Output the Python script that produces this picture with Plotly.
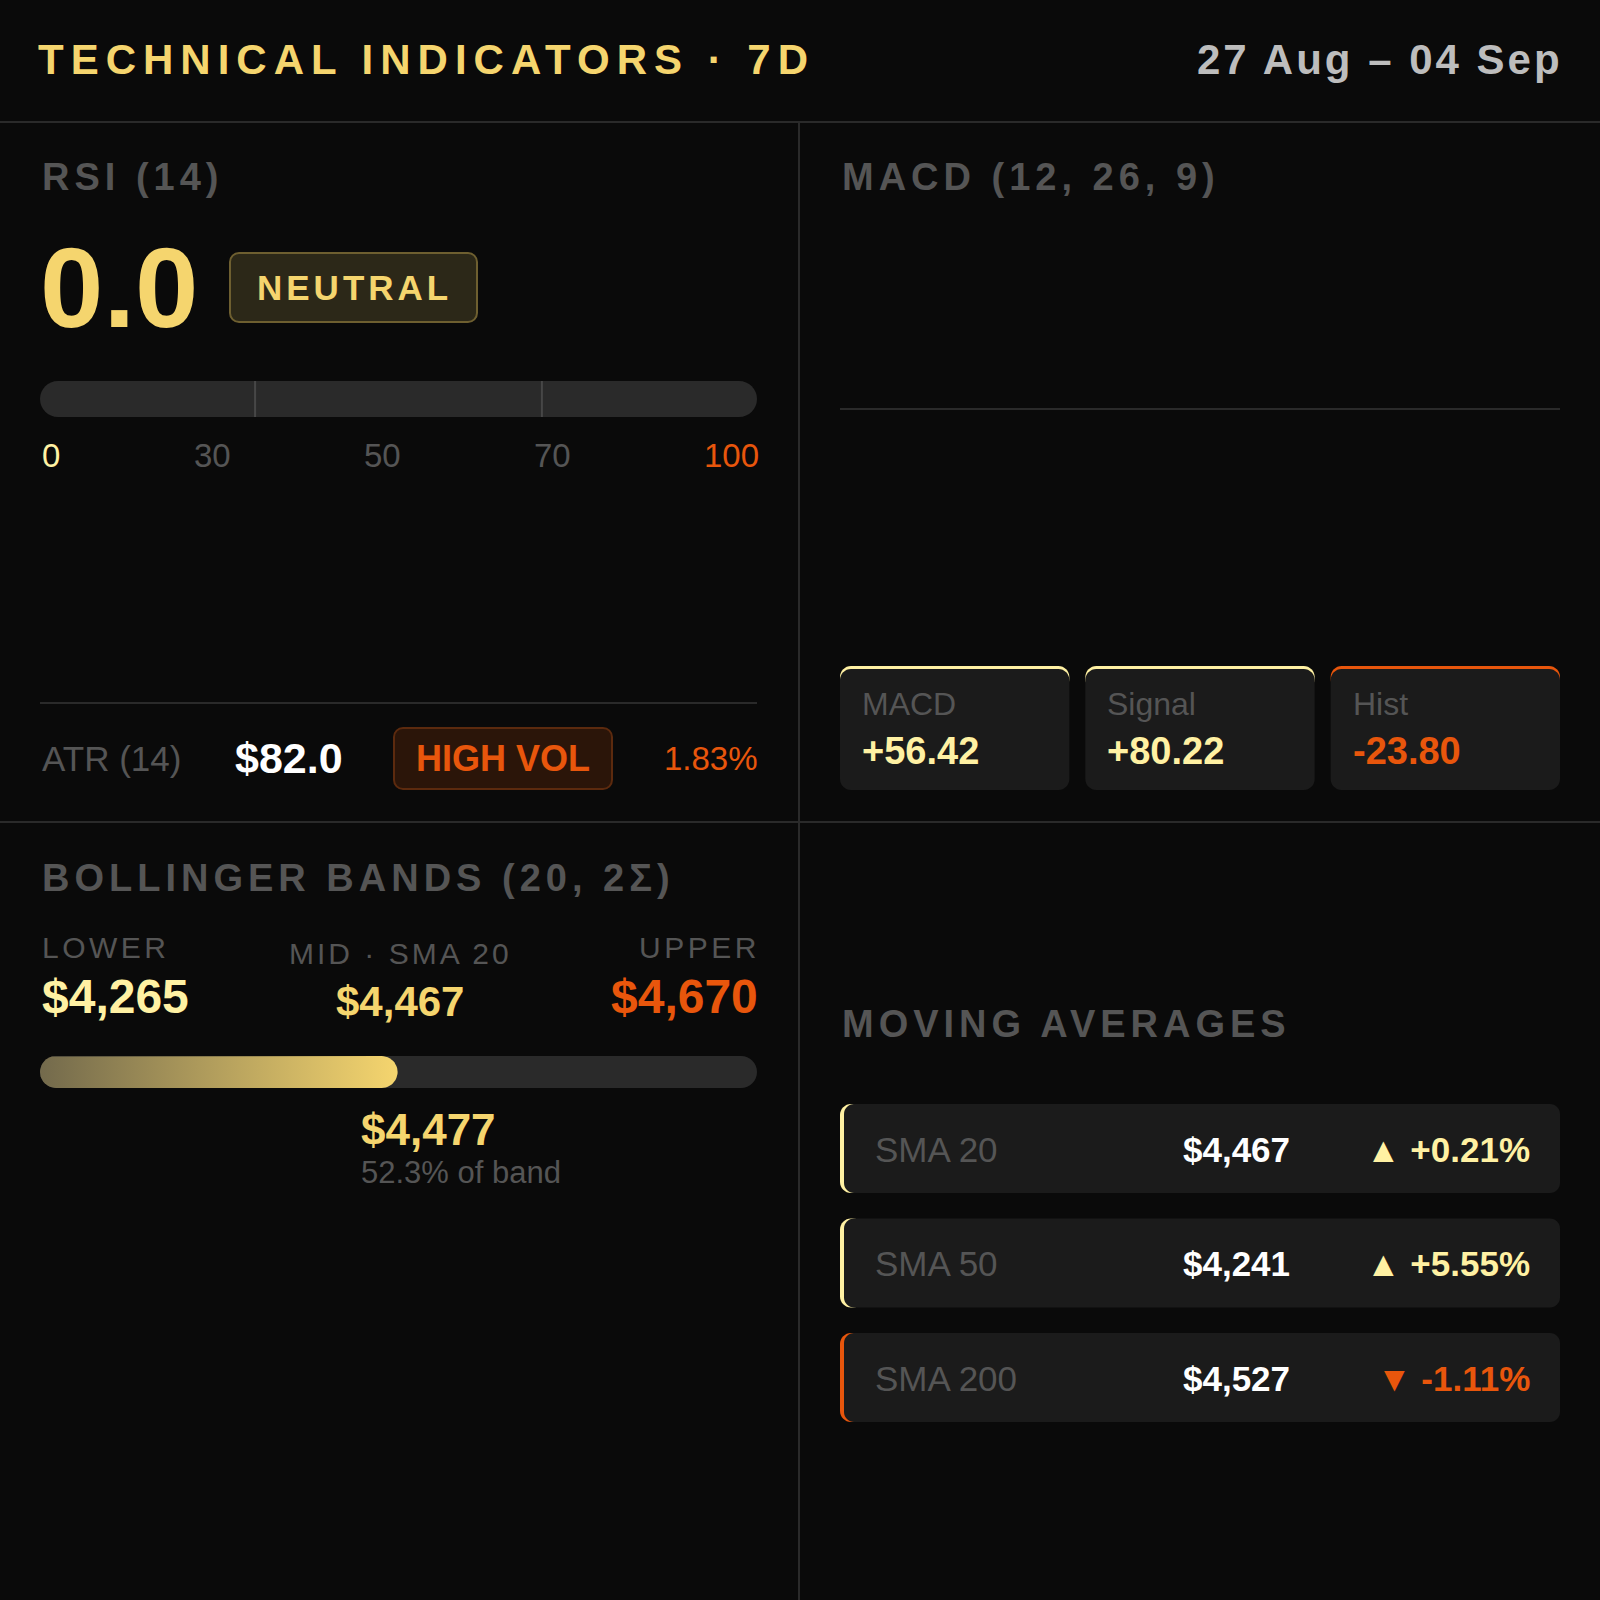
import numpy as np
import plotly.graph_objects as go

# ---- data -------------------------------------------------------------
title_text = "TECHNICAL INDICATORS · 7D"
date_range = "27 Aug – 04 Sep"

rsi_period = 14
rsi_value = 0.0
rsi_state = "NEUTRAL"
rsi_zones = [30, 70]
rsi_tick_labels = ["0", "30", "50", "70", "100"]

atr_period = 14
atr_value = 82.0
atr_pct = 1.83
atr_state = "HIGH VOL"

macd_params = "12, 26, 9"
macd_names = ["MACD", "Signal", "Hist"]
macd_values = [56.42, 80.22, -23.80]
macd_line = []
signal_line = []

bb_names = ["LOWER", "MID · SMA 20", "UPPER"]
bb_values = [4265, 4467, 4670]
bb_price = 4477
bb_pct = 52.3

ma_names = ["SMA 20", "SMA 50", "SMA 200"]
ma_values = [4467, 4241, 4527]
ma_changes = [0.21, 5.55, -1.11]

# ---- style ------------------------------------------------------------
BG = "#0a0a0a"
LINE = "#2a2a2a"
TRACK = "#2a2a2a"
CARD = "#1b1b1b"
GOLD = "#f5d56e"
PALE = "#fff1a3"
ORANGE = "#e8560c"
GREY = "#555555"
DATE = "#bdbdbd"
FONT = "Liberation Sans, Arial, sans-serif"

W = H = 1600
L0, L1 = 40, 757      # left panel content edges
R0, R1 = 840, 1560    # right panel content edges


def X(p):
    return p / W


def Y(p):
    return 1 - p / H


def rrect(x0, y0, x1, y1, r):
    k = 0.5523 * r
    return (f"M {X(x0 + r)},{Y(y0)} L {X(x1 - r)},{Y(y0)} "
            f"C {X(x1 - r + k)},{Y(y0)} {X(x1)},{Y(y0 + r - k)} {X(x1)},{Y(y0 + r)} "
            f"L {X(x1)},{Y(y1 - r)} "
            f"C {X(x1)},{Y(y1 - r + k)} {X(x1 - r + k)},{Y(y1)} {X(x1 - r)},{Y(y1)} "
            f"L {X(x0 + r)},{Y(y1)} "
            f"C {X(x0 + r - k)},{Y(y1)} {X(x0)},{Y(y1 - r + k)} {X(x0)},{Y(y1 - r)} "
            f"L {X(x0)},{Y(y0 + r)} "
            f"C {X(x0)},{Y(y0 + r - k)} {X(x0 + r - k)},{Y(y0)} {X(x0 + r)},{Y(y0)} Z")


shapes = []
annotations = []


def box(x0, y0, x1, y1, r, fill, line=None, lw=0):
    shapes.append(dict(type="path", path=rrect(x0, y0, x1, y1, r), xref="paper", yref="paper",
                       fillcolor=fill, line=dict(color=line or fill, width=lw), layer="below"))


def rule(x0, y0, x1, y1, color=LINE, width=2):
    shapes.append(dict(type="line", x0=X(x0), y0=Y(y0), x1=X(x1), y1=Y(y1), xref="paper", yref="paper",
                       line=dict(color=color, width=width), layer="below"))


def label(x, y, text, size, color, bold=False, anchor="left", spacing=None, xref="paper", xshift=0):
    if spacing:
        text = f'<span style="letter-spacing:{spacing}px">{text}</span>'
    annotations.append(dict(x=X(x) if xref == "paper" else x, y=Y(y), xref=xref, yref="paper",
                            text=text, showarrow=False, xanchor=anchor, yanchor="middle",
                            xshift=xshift,
                            font=dict(size=size, color=color, family=FONT, weight=700 if bold else 400)))


def money(v):
    return f"${v:,.0f}"


fig = go.Figure()

# ---- header & panel grid ----------------------------------------------
label(36, 60, title_text, 42, GOLD, bold=True, spacing=7)
label(1565, 60, date_range, 42, DATE, bold=True, anchor="right", spacing=3)
rule(0, 122, 1600, 122)
rule(799, 122, 799, 1600)
rule(0, 822, 1600, 822)

# ---- RSI ----------------------------------------------------------------
label(40, 177, f"RSI ({rsi_period})", 38, GREY, bold=True, spacing=5)
label(38, 287, f"{rsi_value:.1f}", 114, GOLD, bold=True)
box(230, 253, 477, 322, 9, "#2c2818", "#6e5f30", 2)
label(354, 287, rsi_state, 35, GOLD, bold=True, anchor="center", spacing=4)

box(L0, 381, L1, 417, 18, TRACK)
fig.add_trace(go.Bar(x=[rsi_value], y=[0], orientation="h", width=1,
                     marker=dict(color=GOLD, line=dict(width=0)),
                     xaxis="x", yaxis="y", hoverinfo="skip"))
for z in rsi_zones:
    shapes.append(dict(type="line", xref="x", yref="y", x0=z, x1=z, y0=-0.5, y1=0.5,
                       line=dict(color="#474747", width=2)))

# tick labels spread edge to edge
widths = [len(t) * 0.556 * 33 for t in rsi_tick_labels]
gap = (L1 - L0 - sum(widths)) / (len(rsi_tick_labels) - 1)
tick_colors = [PALE] + [GREY] * (len(rsi_tick_labels) - 2) + [ORANGE]
left = L0
for t, w, c in zip(rsi_tick_labels, widths, tick_colors):
    label(left, 455, t, 33, c)
    left += w + gap

rule(L0, 703, L1, 703)
label(40, 758, f"ATR ({atr_period})", 35, GREY)
label(233, 758, f"${atr_value:.1f}", 43, "#ffffff", bold=True)
box(394, 728, 612, 789, 9, "#2b1509", "#5c2a0e", 2)
label(503, 758, atr_state, 36, ORANGE, bold=True, anchor="center")
label(760, 758, f"{atr_pct:.2f}%", 33, ORANGE, anchor="right")

# ---- MACD ---------------------------------------------------------------
label(R0, 177, f"MACD ({macd_params})", 38, GREY, bold=True, spacing=5)
fig.add_trace(go.Scatter(x=list(range(len(macd_line))), y=macd_line, mode="lines",
                         line=dict(color=PALE, width=3), xaxis="x3", yaxis="y3", hoverinfo="skip"))
fig.add_trace(go.Scatter(x=list(range(len(signal_line))), y=signal_line, mode="lines",
                         line=dict(color=ORANGE, width=3), xaxis="x3", yaxis="y3", hoverinfo="skip"))

card_w = (R1 - R0 - 2 * 16) / 3
for i, (name, val) in enumerate(zip(macd_names, macd_values)):
    x0 = R0 + i * (card_w + 16)
    accent = PALE if val >= 0 else ORANGE
    # accent strip only along the top edge, card body drawn over it
    box(x0, 666, x0 + card_w, 666 + 24, 11, accent)
    box(x0, 669, x0 + card_w, 790, 11, CARD)
    label(x0 + 20, 704, name, 32, GREY)
    label(x0 + 20, 751, f"{val:+.2f}", 38, accent, bold=True)

# ---- Bollinger ----------------------------------------------------------
lower, mid, upper = bb_values
label(40, 878, "BOLLINGER BANDS (20, 2Σ)", 38, GREY, bold=True, spacing=5)
label(40, 947, bb_names[0], 30, GREY, spacing=3.5)
label(40, 996, money(lower), 48, PALE, bold=True)
label(400, 954, bb_names[1], 30, GREY, anchor="center", spacing=3)
label(400, 1001, money(mid), 42, GOLD, bold=True, anchor="center")
label(762, 947, bb_names[2], 30, GREY, anchor="right", spacing=3.5)
label(760, 996, money(upper), 48, ORANGE, bold=True, anchor="right")

box(L0, 1056, L1, 1088, 16, TRACK)
rx = 16 * (upper - lower) / (L1 - L0)
t_r = np.linspace(-np.pi / 2, np.pi / 2, 25)
t_l = np.linspace(np.pi / 2, 3 * np.pi / 2, 25)
xs = np.concatenate([mid - rx + rx * np.cos(t_r), lower + rx + rx * np.cos(t_l)])
ys = np.concatenate([0.5 * np.sin(t_r), 0.5 * np.sin(t_l)])
fig.add_trace(go.Scatter(x=xs, y=ys, mode="lines", fill="toself", line=dict(width=0, color=GOLD),
                         fillgradient=dict(type="horizontal", colorscale=[[0, "#736a4c"], [1, GOLD]]),
                         xaxis="x2", yaxis="y2", hoverinfo="skip"))
label(bb_price, 1129, money(bb_price), 44, GOLD, bold=True, xref="x2", xshift=-56)
label(bb_price, 1172, f"{bb_pct:.1f}% of band", 31, GREY, xref="x2", xshift=-56)

# ---- moving averages ----------------------------------------------------
label(R0, 1024, "MOVING AVERAGES", 38, GREY, bold=True, spacing=5)
for i, (name, val, chg) in enumerate(zip(ma_names, ma_values, ma_changes)):
    y0 = 1104 + i * 114.5
    accent = PALE if chg >= 0 else ORANGE
    # accent strip only along the left edge
    box(R0, y0, R0 + 24, y0 + 89, 11, accent)
    box(R0 + 4, y0, R1, y0 + 89, 10, CARD)
    cy = y0 + 45
    label(873, cy, name, 35, GREY)
    label(1292, cy, money(val), 35, "#ffffff", bold=True, anchor="right")
    arrow = "▲" if chg >= 0 else "▼"
    label(1532, cy, f"{arrow} {chg:+.2f}%", 35, accent, bold=True, anchor="right")

hidden = dict(visible=False, fixedrange=True)
fig.update_layout(
    width=W, height=H,
    margin=dict(l=0, r=0, t=0, b=0),
    paper_bgcolor=BG, plot_bgcolor="rgba(0,0,0,0)",
    font=dict(family=FONT),
    showlegend=False,
    hovermode=False,
    shapes=shapes,
    annotations=annotations,
    xaxis=dict(domain=[X(L0), X(L1)], range=[0, 100], anchor="y", **hidden),
    yaxis=dict(domain=[Y(417), Y(381)], range=[-0.5, 0.5], anchor="x", **hidden),
    xaxis2=dict(domain=[X(L0), X(L1)], range=[lower, upper], anchor="y2", **hidden),
    yaxis2=dict(domain=[Y(1088), Y(1056)], range=[-0.5, 0.5], anchor="x2", **hidden),
    xaxis3=dict(domain=[X(R0), X(R1)], range=[0, 1], anchor="y3", **hidden),
    yaxis3=dict(domain=[Y(590), Y(228)], range=[-1, 1], anchor="x3", showgrid=False,
                zeroline=True, zerolinecolor=LINE, zerolinewidth=2, showticklabels=False,
                ticks="", showline=False, fixedrange=True),
)

# page body keeps a default 8px margin; drop it so the figure fills the window
fig.write_html("out.html", config={"displayModeBar": False},
               post_script="document.body.style.margin = '0';")
